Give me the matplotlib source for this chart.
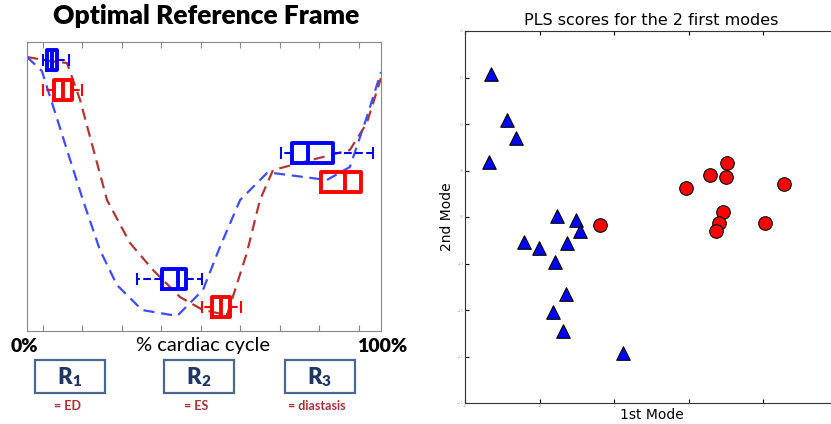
import matplotlib
matplotlib.use("Agg")
import matplotlib.pyplot as plt
from matplotlib.patches import Rectangle

W, H = 831, 424

# ---- left panel: curves over % cardiac cycle ----
blue_x = [0, 4.2, 15.8, 20.6, 25.4, 32.5, 42.4, 49.7, 54.5, 60.2, 67.8, 69.5, 84.7, 91.2, 96, 100]
blue_y = [274, 260, 131, 81, 46, 21, 15, 41, 84, 131, 158, 158, 151, 164, 214, 259]
red_x = [0, 6.5, 11.3, 15, 22.6, 29.1, 35.6, 43.2, 49.7, 56.5, 62.1, 65.8, 69.5, 91.2, 96, 100]
red_y = [274, 270, 268, 231, 131, 88, 61, 34, 21, 16, 78, 131, 161, 181, 208, 253]

# box stats: (whislo, q1, med, q3, whishi, position)
blue_boxes = [(4.5, 5.6, 7.1, 8.5, 11.9, 271),
              (31.1, 38.1, 42.7, 44.9, 49.4, 52),
              (71.8, 74.9, 79.4, 86.4, 97.7, 178)]
red_boxes = [(4.5, 7.6, 10.2, 12.7, 15.5, 241),
             (49.4, 52.3, 54.8, 57.3, 60.5, 24),
             (83.1, 83.1, 89.8, 94.4, 94.4, 149)]

region_labels = ["1", "2", "3"]
region_notes = ["= ED", "= ES", "= diastasis"]

# ---- right panel: PLS scores ----
tri_x = [-3.30, -2.87, -2.63, -3.36, -1.53, -1.02, -0.91, -2.42, -2.01, -1.26, -1.58, -1.29, -1.64, -1.37, 0.24]
tri_y = [1.54, 1.04, 0.85, 0.59, 0.01, -0.03, -0.15, -0.27, -0.33, -0.28, -0.48, -0.83, -1.02, -1.23, -1.46]
circ_x = [1.93, 2.58, 3.03, 3.01, 4.56, 2.93, -0.38, 2.82, 2.74, 4.05]
circ_y = [0.31, 0.45, 0.58, 0.43, 0.35, 0.05, -0.09, -0.06, -0.15, -0.06]


def fx(px):
    return px / W


def fy(py):
    return 1 - py / H


fig = plt.figure(figsize=(W / 100, H / 100), dpi=100)

ax = fig.add_axes([fx(27), fy(331), 354 / W, 289 / H])
ax.plot(red_x, red_y, color="#b03535", lw=1.6, dashes=(5, 3))
ax.plot(blue_x, blue_y, color="#3f4cff", lw=1.6, dashes=(5, 3))


def stats(b):
    return dict(whislo=b[0], q1=b[1], med=b[2], q3=b[3], whishi=b[4])


for boxes, col in [(blue_boxes, "#0000ff"), (red_boxes, "#ff0000")]:
    ax.bxp([stats(b) for b in boxes], positions=[b[5] for b in boxes],
           widths=20, orientation="horizontal", showfliers=False,
           boxprops=dict(color=col, lw=2.8),
           medianprops=dict(color=col, lw=2.8),
           whiskerprops=dict(color=col, lw=1.5, linestyle="--"),
           capprops=dict(color=col, lw=1.5), manage_ticks=False)

ax.set_xlim(0, 100)
ax.set_ylim(0, 289)
ax.set_xticks([4.5 + 11.16 * i for i in range(9)])
ax.set_yticks([])
ax.tick_params(axis="x", direction="in", top=True, bottom=True, labelbottom=False,
               length=4, color="#888888")
for s in ax.spines.values():
    s.set_color("#888888")

fig.text(fx(206), fy(16), "Optimal Reference Frame", ha="center", va="center",
         fontsize=19, fontweight="heavy", family="Lato")
fig.text(fx(24), fy(346), "0%", ha="center", va="center", fontsize=14,
         fontweight="heavy", family="Lato")
fig.text(fx(203), fy(346), "% cardiac cycle", ha="center", va="center",
         fontsize=14.5, family="Lato")
fig.text(fx(382), fy(346), "100%", ha="center", va="center", fontsize=14,
         fontweight="heavy", family="Lato")

box_left = [35, 164, 285]
for i, lab in enumerate(region_labels):
    x0 = box_left[i]
    fig.add_artist(Rectangle((fx(x0), fy(393)), 70 / W, 33 / H, fill=False,
                             edgecolor="#4a6790", lw=1.6, transform=fig.transFigure))
    cx = x0 + 35
    fig.text(fx(cx + 2), fy(377), "R", ha="right", va="center", fontsize=16,
             fontweight="heavy", color="#1f3566", family="Lato")
    fig.text(fx(cx + 2), fy(382), lab, ha="left", va="center", fontsize=11,
             fontweight="heavy", color="#1f3566", family="Lato")
    fig.text(fx(cx - 3), fy(406), region_notes[i], ha="center", va="center",
             fontsize=9, fontweight="bold", color="#a8323a", family="Lato")

# right panel
ax2 = fig.add_axes([fx(465), fy(403), 373 / W, 372 / H])
ax2.scatter(tri_x, tri_y, marker="^", s=95, c="#0000ff", edgecolors="black",
            linewidths=0.8, zorder=3)
ax2.scatter(circ_x, circ_y, marker="o", s=95, c="#ff0000", edgecolors="black",
            linewidths=0.8, zorder=3)
ax2.set_xlim(-4, 6)
ax2.set_ylim(-2, 2)
ax2.set_xticks([-4, -2, 0, 2, 4])
ax2.set_yticks([-2 + 0.5 * i for i in range(9)])
ax2.tick_params(direction="in", top=True, right=True, labelsize=2,
                labelcolor="#aaaaaa", length=3, pad=1)
ax2.set_title("PLS scores for the 2 first modes", fontsize=11.5, pad=4)
ax2.set_xlabel("1st Mode", fontsize=10, labelpad=0)
ax2.set_ylabel("2nd Mode", fontsize=10, labelpad=2)
for s in ax2.spines.values():
    s.set_color("#333333")

fig.savefig("out.png", dpi=100)
